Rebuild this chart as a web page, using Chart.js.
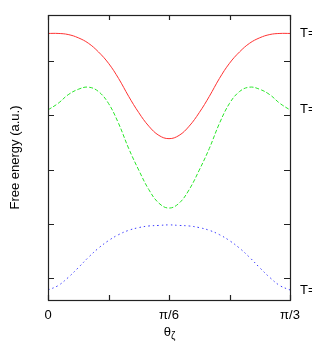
<!DOCTYPE html>
<html>
<head>
<meta charset="utf-8">
<script src="https://cdn.jsdelivr.net/npm/chart.js@4"></script>
<style>
  html, body { margin: 0; padding: 0; background: #fff; }
  canvas { display: block; }
</style>
</head>
<body>
<canvas id="chart" width="312" height="341"></canvas>
<script>
// theta as a fraction of pi/3 (0 .. 1)
const theta = [
  0, 1/24, 2/24, 3/24, 4/24, 5/24, 6/24, 7/24, 8/24, 9/24, 10/24, 11/24, 12/24,
  13/24, 14/24, 15/24, 16/24, 17/24, 18/24, 19/24, 20/24, 21/24, 22/24, 23/24, 1
];

// free energy, arbitrary units
const redSeries = [
  4.51, 4.51, 4.49, 4.43, 4.33, 4.17, 3.96, 3.68, 3.35, 3.05, 2.80, 2.63, 2.57,
  2.63, 2.80, 3.05, 3.35, 3.68, 3.96, 4.17, 4.33, 4.43, 4.49, 4.51, 4.51
];
const greenSeries = [
  3.10, 3.22, 3.38, 3.48, 3.52, 3.44, 3.22, 2.85, 2.39, 1.99, 1.63, 1.38, 1.29,
  1.38, 1.63, 1.99, 2.39, 2.85, 3.22, 3.44, 3.52, 3.48, 3.38, 3.22, 3.10
];
const blueSeries = [
  -0.22, -0.14, 0.01, 0.19, 0.38, 0.55, 0.69, 0.80, 0.88, 0.93, 0.96, 0.97, 0.98,
  0.97, 0.96, 0.93, 0.88, 0.80, 0.69, 0.55, 0.38, 0.19, 0.01, -0.14, -0.22
];

const xTickValues = [0, 0.25, 0.5, 0.75, 1];
const xTickLabels = ['0', '', 'π/6', '', 'π/3'];
const yTickValues = [0, 1, 2, 3, 4];
const seriesLabels = ['T=', 'T=', 'T='];

const FONT = '13px "Liberation Sans", Arial, sans-serif';

const toPoints = (ys) => ys.map((y, i) => ({ x: theta[i], y }));

// frame, inward ticks and text, all placed through the chart's scales
const framePlugin = {
  id: 'frame',
  afterDraw(chart) {
    const { ctx, chartArea: a, scales: { x, y } } = chart;
    ctx.save();
    ctx.strokeStyle = '#222';
    ctx.lineWidth = 1.2;
    ctx.strokeRect(a.left + 0.5, a.top + 0.5, a.right - a.left, a.bottom - a.top);

    ctx.beginPath();
    xTickValues.forEach(v => {
      const px = Math.round(x.getPixelForValue(v)) + 0.5;
      ctx.moveTo(px, a.bottom); ctx.lineTo(px, a.bottom - 5);
      ctx.moveTo(px, a.top);    ctx.lineTo(px, a.top + 5);
    });
    yTickValues.forEach(v => {
      const py = Math.round(y.getPixelForValue(v)) + 0.5;
      ctx.moveTo(a.left, py);  ctx.lineTo(a.left + 6, py);
      ctx.moveTo(a.right, py); ctx.lineTo(a.right - 6, py);
    });
    ctx.stroke();

    ctx.fillStyle = '#000';
    ctx.font = FONT;
    ctx.textAlign = 'center';
    ctx.textBaseline = 'middle';
    xTickValues.forEach((v, i) => {
      if (xTickLabels[i]) ctx.fillText(xTickLabels[i], x.getPixelForValue(v), a.bottom + 15);
    });

    // x title: theta with zeta subscript
    const cx = x.getPixelForValue(0.5);
    ctx.textAlign = 'right';
    ctx.fillText('θ', cx + 2, a.bottom + 32);
    ctx.textAlign = 'left';
    ctx.font = '10px "Liberation Sans", Arial, sans-serif';
    ctx.fillText('ζ', cx + 2, a.bottom + 36);

    // y title
    ctx.font = FONT;
    ctx.save();
    ctx.translate(15, (a.top + a.bottom) / 2);
    ctx.rotate(-Math.PI / 2);
    ctx.textAlign = 'center';
    ctx.fillText('Free energy (a.u.)', 0, 0);
    ctx.restore();

    // series labels at the right, level with each curve's end
    ctx.textAlign = 'left';
    chart.data.datasets.forEach((ds, i) => {
      const last = ds.data[ds.data.length - 1].y;
      ctx.fillText(seriesLabels[i], a.right + 10, y.getPixelForValue(last));
    });
    ctx.restore();
  }
};

new Chart(document.getElementById('chart'), {
  type: 'line',
  data: {
    datasets: [
      { data: toPoints(redSeries),   borderColor: 'rgb(255,50,50)', borderWidth: 1 },
      { data: toPoints(greenSeries), borderColor: 'rgb(40,230,40)', borderWidth: 1, borderDash: [4, 2] },
      { data: toPoints(blueSeries),  borderColor: 'rgb(60,60,255)', borderWidth: 1, borderDash: [1.5, 3] }
    ]
  },
  options: {
    responsive: false,
    animation: false,
    parsing: false,
    layout: { padding: { left: 48, top: 15, right: 22, bottom: 41 } },
    elements: {
      point: { radius: 0 },
      line: { tension: 0.4, fill: false }
    },
    plugins: { legend: { display: false }, tooltip: { enabled: false } },
    scales: {
      x: { type: 'linear', min: 0, max: 1, display: false },
      y: { type: 'linear', min: -0.405, max: 4.85, display: false }
    }
  },
  plugins: [framePlugin]
});
</script>
</body>
</html>
